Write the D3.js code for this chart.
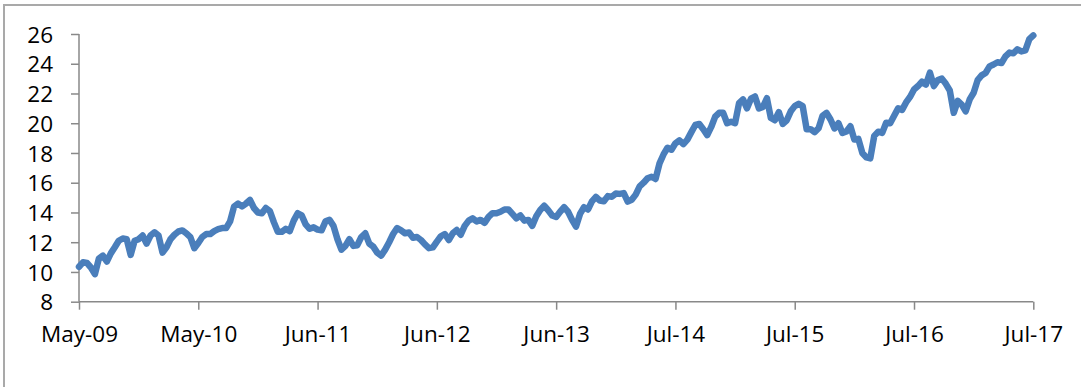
<!DOCTYPE html>
<html>
<head>
<meta charset="utf-8">
<script src="https://cdn.jsdelivr.net/npm/d3@7"></script>
<style>
  html, body { margin: 0; padding: 0; background: #ffffff; }
  svg { display: block; }
  .tick text { font-family: "Open Sans", "Liberation Sans", sans-serif; font-size: 22.5px; fill: #000; }
</style>
</head>
<body>
<svg id="chart" width="1081" height="387"></svg>
<script>
// Semi-monthly closing levels, May 2009 – Jul 2017 (30 observations per labelled interval)
const closes2009 = [10.35, 10.65, 10.6, 10.3, 9.85, 10.9, 11.1, 10.7, 11.25, 11.66,
  12.1, 12.25, 12.2, 11.15, 12.1, 12.2, 12.45, 11.9, 12.45, 12.67,
  12.45, 11.3, 11.66, 12.2, 12.5, 12.72, 12.79, 12.6, 12.35, 11.6];
const closes2010 = [11.95, 12.35, 12.55, 12.55, 12.75, 12.88, 12.95, 12.95, 13.4, 14.4,
  14.6, 14.4, 14.6, 14.84, 14.3, 14.0, 13.95, 14.3, 14.1, 13.35,
  12.7, 12.7, 12.9, 12.75, 13.45, 13.95, 13.8, 13.2, 12.9, 13.0];
const closes2011 = [12.85, 12.8, 13.4, 13.5, 13.1, 12.2, 11.5, 11.75, 12.2, 11.75,
  11.8, 12.35, 12.6, 11.9, 11.7, 11.3, 11.1, 11.5, 12.0, 12.55,
  12.95, 12.8, 12.6, 12.65, 12.3, 12.35, 12.15, 11.85, 11.6, 11.65];
const closes2012 = [12.04, 12.4, 12.55, 12.15, 12.6, 12.82, 12.5, 13.1, 13.45, 13.6,
  13.4, 13.5, 13.3, 13.7, 13.95, 13.95, 14.05, 14.2, 14.2, 13.9,
  13.6, 13.8, 13.45, 13.5, 13.1, 13.75, 14.17, 14.45, 14.15, 13.8];
const closes2013 = [13.7, 14.05, 14.35, 14.05, 13.5, 13.05, 13.9, 14.35, 14.2, 14.75,
  15.05, 14.8, 14.75, 15.1, 15.06, 15.27, 15.25, 15.3, 14.73, 14.85,
  15.2, 15.75, 16.0, 16.3, 16.4, 16.25, 17.3, 17.9, 18.35, 18.22];
const closes2014 = [18.65, 18.85, 18.6, 18.9, 19.4, 19.88, 19.95, 19.6, 19.2, 19.75,
  20.44, 20.7, 20.7, 20.0, 20.1, 20.0, 21.35, 21.6, 21.0, 21.65,
  21.8, 21.0, 21.1, 21.68, 20.35, 20.2, 20.75, 19.95, 20.2, 20.8];
const closes2015 = [21.15, 21.3, 21.15, 19.6, 19.6, 19.4, 19.66, 20.5, 20.7, 20.25,
  19.65, 20.0, 19.35, 19.45, 19.8, 18.9, 18.95, 18.0, 17.7, 17.64,
  19.15, 19.43, 19.35, 20.03, 20.0, 20.5, 21.0, 20.9, 21.4, 21.77];
const closes2016 = [22.27, 22.5, 22.8, 22.6, 23.4, 22.5, 22.9, 23.0, 22.65, 22.2,
  20.7, 21.5, 21.25, 20.8, 21.6, 22.05, 22.9, 23.22, 23.38, 23.82,
  23.95, 24.1, 24.05, 24.5, 24.75, 24.7, 24.97, 24.83, 24.9, 25.65];
const closes2017 = [25.9];

const closes = [].concat(closes2009, closes2010, closes2011, closes2012, closes2013,
  closes2014, closes2015, closes2016, closes2017);

const xTickLabels = ["May-09", "May-10", "Jun-11", "Jun-12", "Jun-13", "Jul-14", "Jul-15", "Jul-16", "Jul-17"];
const yTicks = [8, 10, 12, 14, 16, 18, 20, 22, 24, 26];
const pointsPerLabel = 30;

const svg = d3.select("#chart");
const W = 1081, H = 387;

// chart area frame (continues past the right and bottom edges)
svg.append("path")
  .attr("d", `M4,${H + 5} L4,5 L${W + 5},5`)
  .attr("fill", "none")
  .attr("stroke", "#a9a9a9")
  .attr("stroke-width", 2);

const x = d3.scaleLinear()
  .domain([0, closes.length - 1])
  .range([79, 1033.3]);

const y = d3.scaleLinear()
  .domain([8, 26])
  .range([301.7, 34]);

const axisColor = "#898989";

// value axis
const yAxis = svg.append("g")
  .attr("transform", `translate(${x.range()[0]},0)`)
  .call(d3.axisLeft(y).tickValues(yTicks).tickSize(8).tickPadding(18).tickFormat(d3.format("d")));

// category axis
const xTickIdx = xTickLabels.map((_, i) => i * pointsPerLabel);
const xAxis = svg.append("g")
  .attr("transform", `translate(0,${y(8)})`)
  .call(d3.axisBottom(x).tickValues(xTickIdx).tickSize(8).tickPadding(16)
    .tickFormat((d, i) => xTickLabels[i]));

[yAxis, xAxis].forEach(g => {
  g.select(".domain").attr("stroke", axisColor).attr("stroke-width", 1.5)
    .attr("d", g === yAxis ? `M0,${y(8)}V${y(26)}` : `M${x.range()[0]},0H${x.range()[1]}`);
  g.selectAll(".tick line").attr("stroke", axisColor).attr("stroke-width", 1.5);
});
yAxis.selectAll(".tick text").attr("dy", "0.36em");

// price line
const line = d3.line()
  .x((d, i) => x(i))
  .y(d => y(d));

svg.append("path")
  .datum(closes)
  .attr("fill", "none")
  .attr("stroke", "#4a7ebb")
  .attr("stroke-width", 6.5)
  .attr("stroke-linejoin", "round")
  .attr("stroke-linecap", "round")
  .attr("d", line);
</script>
</body>
</html>
